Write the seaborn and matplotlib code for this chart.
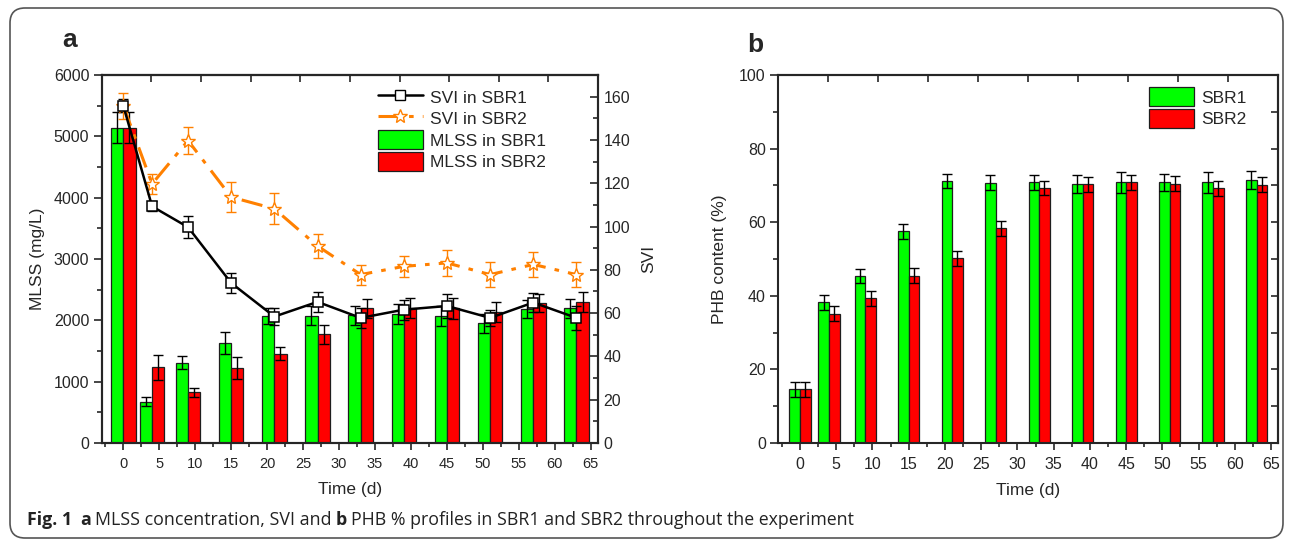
import numpy as np
import pandas as pd
import seaborn as sns
import matplotlib.pyplot as plt
from matplotlib.patches import FancyBboxPatch, Patch
from matplotlib.lines import Line2D
from matplotlib.ticker import MultipleLocator

# sampling days (d)
days = [0, 4, 9, 15, 21, 27, 33, 39, 45, 51, 57, 63]

# panel a: MLSS (mg/L)
mlss_sbr1 = [5140, 674, 1310, 1625, 2065, 2076, 2082, 2103, 2076, 1951, 2185, 2196]
mlss_sbr1_err = [253, 73, 103, 177, 130, 155, 158, 163, 163, 152, 150, 155]
mlss_sbr2 = [5140, 1234, 826, 1217, 1457, 1772, 2196, 2196, 2196, 2141, 2277, 2294]
mlss_sbr2_err = [253, 204, 73, 179, 111, 150, 158, 163, 168, 163, 147, 160]

# panel a: SVI
svi_sbr1 = [155.8, 109.3, 99.7, 73.9, 58.4, 65.2, 57.8, 61.6, 63.3, 57.8, 64.9, 57.8]
svi_sbr1_err = [3.0, 2.3, 5.0, 4.8, 4.1, 4.6, 4.8, 4.6, 5.4, 3.6, 4.4, 5.5]
svi_sbr2 = [155.8, 119.7, 139.7, 113.6, 108.2, 91.0, 77.8, 81.6, 83.2, 77.8, 82.5, 77.8]
svi_sbr2_err = [6.0, 4.6, 6.1, 6.8, 7.1, 5.5, 4.6, 4.8, 6.1, 5.8, 5.6, 5.8]

# panel b: PHB content (%)
phb_sbr1 = [14.6, 38.2, 45.4, 57.5, 71.2, 70.7, 70.8, 70.4, 70.8, 70.8, 70.8, 71.4]
phb_sbr1_err = [2.0, 2.0, 2.0, 2.0, 2.0, 2.0, 2.0, 2.4, 2.9, 2.4, 2.8, 2.4]
phb_sbr2 = [14.6, 35.1, 39.3, 45.5, 50.2, 58.3, 69.3, 70.3, 70.8, 70.5, 69.2, 70.2]
phb_sbr2_err = [2.0, 2.0, 2.0, 2.0, 2.0, 2.0, 2.0, 2.0, 2.0, 2.0, 2.1, 2.0]

bar_colors = ['#00ff00', '#ff0000']
orange = '#ff8000'

sns.set_style('ticks')
plt.rcParams['font.family'] = ['Liberation Sans', 'DejaVu Sans']
plt.rcParams['axes.linewidth'] = 1.5

fig = plt.figure(figsize=(12.93, 5.4), dpi=100)
ax1 = fig.add_axes([0.0787, 0.1796, 0.3838, 0.6815])
ax3 = fig.add_axes([0.6019, 0.1796, 0.3867, 0.6815])


def bars_with_errors(ax, values1, values2, errs1, errs2, labels, width):
    df = pd.DataFrame({
        'Time': days + days,
        'Reactor': [labels[0]] * len(days) + [labels[1]] * len(days),
        'Value': values1 + values2,
    })
    sns.barplot(data=df, x='Time', y='Value', hue='Reactor', palette=bar_colors,
                native_scale=True, width=width, errorbar=None, saturation=1,
                edgecolor='#1e1e1e', linewidth=0.9, legend=False, ax=ax)
    for container, errs in zip(ax.containers, [errs1, errs2]):
        patches = sorted(container.patches, key=lambda p: p.get_x())
        xs = [p.get_x() + p.get_width() / 2 for p in patches]
        hs = [p.get_height() for p in patches]
        ax.errorbar(xs, hs, yerr=errs, fmt='none', ecolor='black',
                    elinewidth=1, capsize=3.5, capthick=1, zorder=5)


def style_axis(ax, ymax, ymajor, yminor, xlabel_size):
    ax.set_xlim(-3, 66)
    ax.set_ylim(0, ymax)
    ax.xaxis.set_major_locator(MultipleLocator(5))
    ax.xaxis.set_minor_locator(MultipleLocator(2.5))
    ax.yaxis.set_major_locator(MultipleLocator(ymajor))
    ax.yaxis.set_minor_locator(MultipleLocator(yminor))
    ax.tick_params(axis='x', which='major', direction='out', length=5, width=1.2,
                   labelsize=xlabel_size, pad=5)
    ax.tick_params(axis='x', which='minor', direction='out', length=3, width=1.2)
    ax.tick_params(axis='y', which='major', direction='out', length=6, width=1.2,
                   labelsize=11.5, pad=3)
    ax.tick_params(axis='y', which='minor', direction='out', length=3.5, width=1.2)
    ax.set_xlabel('Time (d)', fontsize=12.5, labelpad=8)
    top = ax.secondary_xaxis('top')
    top.set_xticks(np.linspace(-3, 66, 11))
    top.tick_params(direction='in', length=5, width=1.2, labeltop=False)
    for s in ax.spines.values():
        s.set_linewidth(1.5)


# ---- panel a ----
bars_with_errors(ax1, mlss_sbr1, mlss_sbr2, mlss_sbr1_err, mlss_sbr2_err,
                 ['MLSS in SBR1', 'MLSS in SBR2'], 0.85)
style_axis(ax1, 6000, 1000, 500, 10.5)
ax1.set_ylabel('MLSS (mg/L)', fontsize=12.5, labelpad=6)

ax2 = ax1.twinx()
dash_dot = (0, (7, 3, 1.5, 3))
ax2.errorbar(days, svi_sbr1, yerr=svi_sbr1_err, fmt='none', ecolor='black',
             elinewidth=1, capsize=3.5, capthick=1, zorder=2)
ax2.errorbar(days, svi_sbr2, yerr=svi_sbr2_err, fmt='none', ecolor=orange,
             elinewidth=1, capsize=3.5, capthick=1, zorder=2)
sns.lineplot(x=days, y=svi_sbr1, color='black', linewidth=1.8, marker='s',
             markersize=7, markerfacecolor='white', markeredgecolor='black',
             markeredgewidth=1.1, zorder=4, ax=ax2)
sns.lineplot(x=days, y=svi_sbr2, color=orange, linewidth=2.2, linestyle=dash_dot,
             marker='*', markersize=10.5, markerfacecolor='white', markeredgecolor=orange,
             markeredgewidth=1.0, zorder=3, ax=ax2)
ax2.set_ylim(0, 170)
ax2.yaxis.set_major_locator(MultipleLocator(20))
ax2.yaxis.set_minor_locator(MultipleLocator(10))
ax2.tick_params(axis='y', which='major', direction='in', length=6, width=1.2,
                labelsize=11.5, pad=4)
ax2.tick_params(axis='y', which='minor', direction='in', length=3.5, width=1.2)
ax2.set_ylabel('SVI', fontsize=12.5, labelpad=8)
for s in ax2.spines.values():
    s.set_linewidth(1.5)

handles_a = [
    Line2D([], [], color='black', lw=1.8, marker='s', markersize=7,
           markerfacecolor='white', markeredgecolor='black'),
    Line2D([], [], color=orange, lw=2.2, linestyle=dash_dot, marker='*', markersize=10.5,
           markerfacecolor='white', markeredgecolor=orange),
    Patch(facecolor=bar_colors[0], edgecolor='#1e1e1e', linewidth=0.9),
    Patch(facecolor=bar_colors[1], edgecolor='#1e1e1e', linewidth=0.9),
]
ax2.legend(handles_a, ['SVI in SBR1', 'SVI in SBR2', 'MLSS in SBR1', 'MLSS in SBR2'],
           loc='upper left', bbox_to_anchor=(0.535, 0.995), frameon=False, fontsize=12.5,
           handlelength=2.6, handleheight=1.3, handletextpad=0.4, labelspacing=0.15,
           borderaxespad=0.2)

# ---- panel b ----
bars_with_errors(ax3, phb_sbr1, phb_sbr2, phb_sbr1_err, phb_sbr2_err,
                 ['SBR1', 'SBR2'], 0.73)
style_axis(ax3, 100, 20, 10, 11.5)
ax3.set_ylabel('PHB content (%)', fontsize=12.5, labelpad=9)
right = ax3.secondary_yaxis('right')
right.set_yticks(np.arange(0, 101, 10))
right.tick_params(direction='in', length=5, width=1.2, labelright=False)

handles_b = [Patch(facecolor=c, edgecolor='#1e1e1e', linewidth=0.9) for c in bar_colors]
ax3.legend(handles_b, ['SBR1', 'SBR2'], loc='upper left', bbox_to_anchor=(0.72, 0.995),
           frameon=False, fontsize=12.5, handlelength=2.6, handleheight=1.3,
           handletextpad=0.4, labelspacing=0.15, borderaxespad=0.2)

# panel letters
fig.text(70 / 1293, 1 - 40 / 540, 'a', fontsize=19, fontweight='bold', ha='center', va='center')
fig.text(755 / 1293, 1 - 45 / 540, 'b', fontsize=19, fontweight='bold', ha='center', va='center')

# rounded frame
frame = FancyBboxPatch((0.10, 0.02), 12.73, 5.30,
                       boxstyle='round,pad=0,rounding_size=0.15',
                       transform=fig.dpi_scale_trans, facecolor='none',
                       edgecolor='#555555', linewidth=1.2)
fig.patches.append(frame)

# caption, chained piece by piece so the bold parts sit inline
cap_family = ['Open Sans', 'DejaVu Sans']
cap_size = 12.8
pieces = [('a', 'bold', 6), ('MLSS concentration, SVI and', 'normal', 3),
          ('b', 'bold', 3), ('PHB % profiles in SBR1 and SBR2 throughout the experiment', 'normal', 3)]
chain = fig.text(27 / 1293, 1 - 520 / 540, 'Fig. 1', fontsize=cap_size, fontweight='bold',
                 family=cap_family, color='#222222', va='center')
for txt, weight, gap in pieces:
    chain = ax1.annotate(txt, xy=(1, 0), xycoords=chain, xytext=(gap, 0),
                         textcoords='offset points', va='bottom', ha='left',
                         fontsize=cap_size, fontweight=weight, family=cap_family,
                         color='#222222', annotation_clip=False)

fig.savefig('out.png', dpi=100)
